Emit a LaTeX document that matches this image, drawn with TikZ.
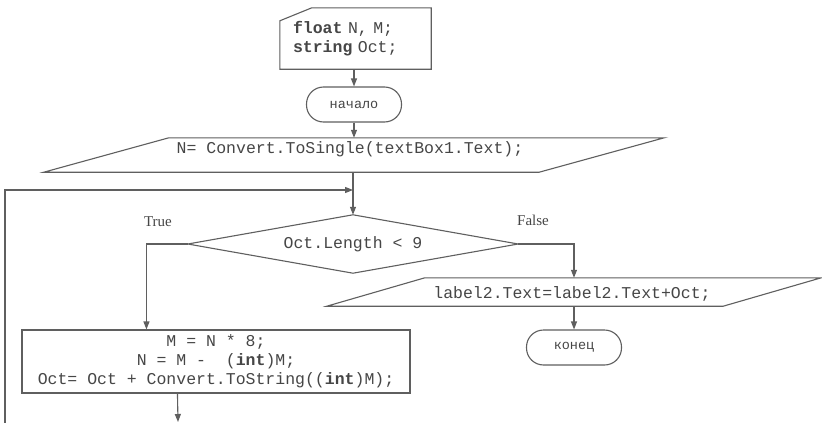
\documentclass[tikz,border=0pt]{standalone}
\usepackage{fontspec}
\setmainfont{Liberation Serif}
\setmonofont{Liberation Mono}
\usetikzlibrary{arrows.meta,calc}
\definecolor{inkline}{RGB}{95,95,95}
\definecolor{inktext}{RGB}{70,70,70}
\begin{document}
\begin{tikzpicture}[x=1pt,y=-1pt,
  flow/.style={draw=inkline, line width=1.1pt, line join=miter},
  arrow/.style={flow, -{Triangle[length=8pt,width=6pt]}},
  code/.style={font=\fontsize{16.5}{19}\selectfont\ttfamily, text=inktext},
  frame/.style={code, inner sep=0pt, align=center},
  term/.style={draw=inkline, line width=1.1pt, rounded corners=17pt,
    minimum width=95pt, minimum height=35pt, inner sep=0pt,
    font=\fontsize{13.5}{16}\selectfont\ttfamily, text=inktext},
  note/.style={font=\fontsize{15}{18}\selectfont, text=inktext}]

\useasboundingbox (0,0) rectangle (822,423);
\fill[white] (0,0) rectangle (822,423);

% declarations with a cut top-left corner
\node[frame, minimum width=151pt, minimum height=61pt, text width=125pt, align=left]
  (decl) at (355.5,38.5) {\textbf{float} N, M;\\\textbf{string} Oct;};
\draw[flow] ($(decl.north west)+(0,13)$) -- ($(decl.north west)+(32,0)$)
  -- (decl.north east) -- (decl.south east) -- (decl.south west) -- cycle;

% start
\node[term] (start) at (354,104.5) {начало};

% input: N from textBox1
\node[frame, minimum width=370pt, minimum height=34pt] (in1) at (354,155) {};
\node[frame] (in1txt) at (350,149) {N= Convert.ToSingle(textBox1.Text);};
\draw[flow] ($(in1.south west)+(-125,0)$) -- (in1.north west)
  -- ($(in1.north east)+(125,0)$) -- (in1.south east) -- cycle;

% loop condition
\node[frame, minimum width=330pt, minimum height=58pt] (dec) at (353,244)
  {Oct.Length < 9};
\draw[flow] (dec.north) -- (dec.east) -- (dec.south) -- (dec.west) -- cycle;

% loop body
\node[frame, draw=inkline, line width=1.1pt, minimum width=388pt, minimum height=63pt]
  (calc) at (216,361.5)
  {M = N * 8;\\N = M -\ \ (\textbf{int})M;\\Oct= Oct + Convert.ToString((\textbf{int})M);};

% output
\node[frame, minimum width=298pt, minimum height=28pt] (out) at (574,292) {};
\node[frame] (outtxt) at (572,294) {label2.Text=label2.Text+Oct;};
\draw[flow] ($(out.south west)+(-98,0)$) -- (out.north west)
  -- ($(out.north east)+(98,0)$) -- (out.south east) -- cycle;

% end
\node[term] (stop) at (574,347.5) {конец};

% branch labels
\node[note] (tlab) at (158,222) {True};
\node[note] (flab) at (533,220) {False};

% connectors
\coordinate (back) at (5,423);
\coordinate (join) at (353,190);
\coordinate (exit) at (178,422);

\draw[arrow] (decl.south -| start.north) -- (start.north);
\draw[arrow] (start.south) -- (start.south |- in1.north);
\draw[arrow] (dec.north |- in1.south) -- (dec.north);
\draw[arrow] (back) |- (join);
\draw[arrow] (dec.west) -| ($(calc.north west)+(125,0)$);
\draw[arrow] (dec.east) -| (out.north);
\draw[arrow] (out.south) -- (stop.north);
\draw[arrow] ($(calc.south west)+(156,0)$) -- (exit);
\end{tikzpicture}
\end{document}
